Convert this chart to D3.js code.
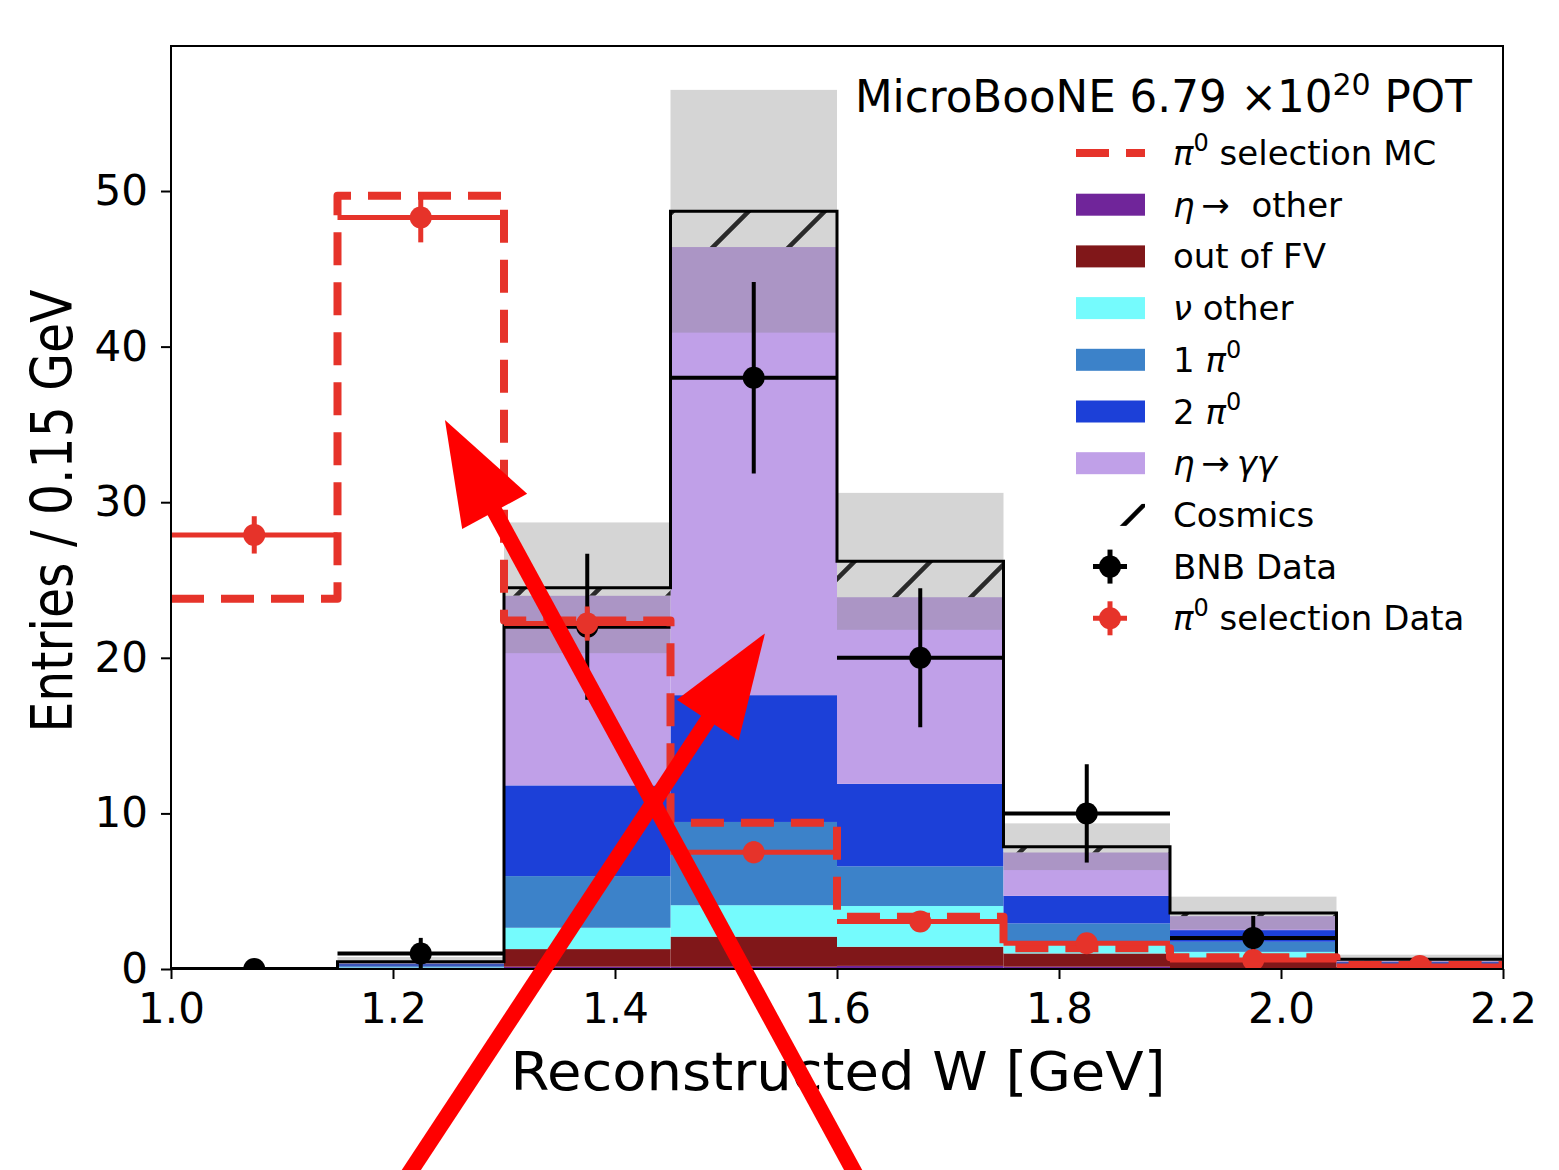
<!DOCTYPE html>
<html>
<head>
<meta charset="utf-8">
<script src="https://cdnjs.cloudflare.com/ajax/libs/d3/7.8.5/d3.min.js"></script>
<style>
  body { margin: 0; background: #fff; }
  svg { display: block; font-family: "DejaVu Sans", sans-serif; }
</style>
</head>
<body>
<svg id="chart"></svg>
<script>
// bins of reconstructed W [GeV]
var binEdges = [1.0, 1.15, 1.3, 1.45, 1.6, 1.75, 1.9, 2.05, 2.2];

// stacked MC components (entries / bin), bottom to top
var etaOther = [0, 0.02, 0.15, 0.15, 0.2, 0.15, 0.05, 0.05];
var outFV    = [0, 0.03, 1.13, 1.93, 1.23, 0.85, 0.6, 0.1];
var nuOther  = [0, 0.05, 1.37, 2.02, 2.62, 0.65, 0.45, 0.05];
var onePi0   = [0, 0.08, 3.32, 5.35, 2.55, 1.28, 0.65, 0.1];
var twoPi0   = [0, 0.17, 5.83, 8.15, 5.3, 1.77, 0.75, 0.15];
var etaGG    = [0, 0.07, 12.2, 28.8, 12.0, 2.8, 0.9, 0.12];
var cosmics  = [0, 0.05, 0.5, 2.3, 2.3, 0.36, 0.2, 0.05];
var mcErr    = [0, 0.3, 4.2, 7.8, 4.4, 1.5, 1.05, 0.3];

// BNB data
var bnbData = [0, 1, 22, 38, 20, 10, 2, 0];
var bnbErr  = [0, 1, 4.69, 6.16, 4.47, 3.16, 1.41, 0];

// pi0 selection (scaled)
var pi0MC      = [23.8, 49.7, 22.4, 9.4, 3.36, 1.33, 0.75, 0.25];
var pi0Data    = [27.9, 48.3, 22.2, 7.5, 3.05, 1.65, 0.58, 0.2];
var pi0DataErr = [1.2, 1.6, 1.1, 0.7, 0.5, 0.35, 0.2, 0.15];

var xTicks = [1.0, 1.2, 1.4, 1.6, 1.8, 2.0, 2.2];
var yTicks = [0, 10, 20, 30, 40, 50];

// annotation arrows (data units)
var arrows = [
  {tipX: 1.2468, tipY: 35.28, tailX: 1.6228, tailY: -14},
  {tipX: 1.5351, tipY: 21.57, tailX: 1.2065, tailY: -14}
];

var keys = ["etaOther", "outFV", "nuOther", "onePi0", "twoPi0", "etaGG", "cosmics"];
var colors = {etaOther: "#70259a", outFV: "#801719", nuOther: "#75fbfd",
              onePi0: "#3c82c9", twoPi0: "#1c40d8", etaGG: "#c0a0e8", cosmics: "url(#hatch)"};
var red = "#e6332a";

var width = 1559, height = 1170,
    margin = {top: 46, right: 56, bottom: 201, left: 171},
    innerWidth = width - margin.left - margin.right,
    innerHeight = height - margin.top - margin.bottom;

var x = d3.scaleLinear().domain([1.0, 2.2]).range([0, innerWidth]),
    y = d3.scaleLinear().domain([0, 59.32]).range([innerHeight, 0]);

var rows = binEdges.slice(0, -1).map(function(lo, i) {
  return {lo: lo, hi: binEdges[i + 1], mid: (lo + binEdges[i + 1]) / 2,
          etaOther: etaOther[i], outFV: outFV[i], nuOther: nuOther[i], onePi0: onePi0[i],
          twoPi0: twoPi0[i], etaGG: etaGG[i], cosmics: cosmics[i], err: mcErr[i],
          bnb: bnbData[i], bnbErr: bnbErr[i], piMC: pi0MC[i], piData: pi0Data[i], piErr: pi0DataErr[i]};
});
rows.forEach(function(r) { r.total = d3.sum(keys, function(k) { return r[k]; }); });

var svgRoot = d3.select("#chart").attr("width", width).attr("height", height);
var defs = svgRoot.append("defs");

defs.append("clipPath").attr("id", "plotclip")
  .append("rect").attr("width", innerWidth).attr("height", innerHeight);

// hatch for cosmics; one for the plot, one for the legend handle (different user spaces)
function makeHatch(id, phase) {
  var p = defs.append("pattern").attr("id", id)
      .attr("patternUnits", "userSpaceOnUse")
      .attr("width", 76).attr("height", 76).attr("x", phase).attr("y", 0);
  p.append("rect").attr("width", 76).attr("height", 76).attr("fill", "#fff");
  p.append("path").attr("d", "M-19,19L19,-19M0,76L76,0M57,95L95,57")
    .attr("stroke", "#000").attr("stroke-width", 4.5);
}
makeHatch("hatch", 59);
makeHatch("hatchLegend", 70);

var svg = svgRoot.append("g")
  .attr("transform", "translate(" + margin.left + "," + margin.top + ")");

var plot = svg.append("g").attr("clip-path", "url(#plotclip)");

// stacked MC
var series = d3.stack().keys(keys)(rows);
plot.selectAll(".layer")
  .data(series).enter()
  .append("g")
    .attr("class", "layer")
    .attr("fill", function(d) { return colors[d.key]; })
  .selectAll("rect")
  .data(function(d) { return d; }).enter()
  .append("rect")
    .attr("x", function(d) { return x(d.data.lo); })
    .attr("width", function(d) { return x(d.data.hi) - x(d.data.lo); })
    .attr("y", function(d) { return y(d[1]); })
    .attr("height", function(d) { return Math.max(0, y(d[0]) - y(d[1])); });

// MC uncertainty band
plot.append("g").selectAll("rect")
  .data(rows.filter(function(d) { return d.err > 0; })).enter()
  .append("rect")
    .attr("x", function(d) { return x(d.lo); })
    .attr("width", function(d) { return x(d.hi) - x(d.lo); })
    .attr("y", function(d) { return y(d.total + d.err); })
    .attr("height", function(d) { return y(d.total - d.err) - y(d.total + d.err); })
    .attr("fill", "#808080").attr("fill-opacity", 0.33);

// step outlines
var stepLine = d3.line()
  .x(function(d) { return x(d[0]); })
  .y(function(d) { return y(d[1]); })
  .curve(d3.curveStepAfter);

function stepPoints(vals) {
  var pts = vals.map(function(v, i) { return [binEdges[i], v]; });
  pts.push([binEdges[binEdges.length - 1], vals[vals.length - 1]]);
  return pts;
}

plot.append("path")
  .attr("d", stepLine(stepPoints(rows.map(function(d) { return d.total; }))))
  .attr("fill", "none").attr("stroke", "#000").attr("stroke-width", 3);

// BNB data
var bnb = plot.append("g").selectAll("g").data(rows).enter().append("g");
bnb.append("line")
  .attr("x1", function(d) { return x(d.lo); }).attr("x2", function(d) { return x(d.hi); })
  .attr("y1", function(d) { return y(d.bnb); }).attr("y2", function(d) { return y(d.bnb); })
  .attr("stroke", "#000").attr("stroke-width", 4);
bnb.append("line")
  .attr("x1", function(d) { return x(d.mid); }).attr("x2", function(d) { return x(d.mid); })
  .attr("y1", function(d) { return y(d.bnb - d.bnbErr); }).attr("y2", function(d) { return y(d.bnb + d.bnbErr); })
  .attr("stroke", "#000").attr("stroke-width", 4);
bnb.append("circle")
  .attr("cx", function(d) { return x(d.mid); }).attr("cy", function(d) { return y(d.bnb); })
  .attr("r", 11).attr("fill", "#000");

// pi0 selection MC (dashed step)
plot.append("path")
  .attr("d", stepLine(stepPoints(pi0MC)))
  .attr("fill", "none").attr("stroke", red).attr("stroke-width", 8)
  .attr("stroke-dasharray", "33,17").attr("stroke-linejoin", "round");

// pi0 selection data
var pd = plot.append("g").selectAll("g").data(rows).enter().append("g");
pd.append("line")
  .attr("x1", function(d) { return x(d.lo); }).attr("x2", function(d) { return x(d.hi); })
  .attr("y1", function(d) { return y(d.piData); }).attr("y2", function(d) { return y(d.piData); })
  .attr("stroke", red).attr("stroke-width", 5);
pd.append("line")
  .attr("x1", function(d) { return x(d.mid); }).attr("x2", function(d) { return x(d.mid); })
  .attr("y1", function(d) { return y(d.piData - d.piErr); }).attr("y2", function(d) { return y(d.piData + d.piErr); })
  .attr("stroke", red).attr("stroke-width", 5);
pd.append("circle")
  .attr("cx", function(d) { return x(d.mid); }).attr("cy", function(d) { return y(d.piData); })
  .attr("r", 11).attr("fill", red);

// axes
var xAxis = d3.axisBottom(x).tickValues(xTicks).tickFormat(d3.format(".1f")).tickSize(10).tickPadding(14),
    yAxis = d3.axisLeft(y).tickValues(yTicks).tickSize(10).tickPadding(13);

var gx = svg.append("g").attr("transform", "translate(0," + innerHeight + ")").call(xAxis);
var gy = svg.append("g").call(yAxis);
[gx, gy].forEach(function(g) {
  g.select(".domain").remove();
  g.selectAll(".tick line").attr("stroke", "#000").attr("stroke-width", 2);
  g.selectAll(".tick text").attr("font-size", 42).attr("fill", "#000")
    .attr("font-family", "DejaVu Sans");
});

svg.append("rect")
  .attr("width", innerWidth).attr("height", innerHeight)
  .attr("fill", "none").attr("stroke", "#000").attr("stroke-width", 2);

// axis labels
svgRoot.append("text")
  .attr("x", 838).attr("y", 1090)
  .attr("text-anchor", "middle")
  .attr("font-size", 54)
  .attr("textLength", 655).attr("lengthAdjust", "spacingAndGlyphs")
  .text("Reconstructed W [GeV]");

svgRoot.append("text")
  .attr("transform", "translate(72,511) rotate(-90)")
  .attr("text-anchor", "middle")
  .attr("font-size", 57)
  .attr("textLength", 443).attr("lengthAdjust", "spacingAndGlyphs")
  .text("Entries / 0.15 GeV");

// title
var title = svgRoot.append("text").attr("x", 855).attr("y", 112).attr("font-size", 43.6);
title.append("tspan").text("MicroBooNE 6.79 \u00d710");
title.append("tspan").attr("font-size", 30).attr("dy", -17).text("20");
title.append("tspan").attr("dy", 17).text(" POT");

// legend
var legendItems = [
  {type: "dash",  label: [{t: "\u03c0", it: 1}, {t: "0", sup: 1}, {t: " selection MC"}]},
  {type: "patch", key: "etaOther", label: [{t: "\u03b7", it: 1}, {t: "\u2009\u2192\u00a0\u00a0other"}]},
  {type: "patch", key: "outFV",    label: [{t: "out of FV"}]},
  {type: "patch", key: "nuOther",  label: [{t: "\u03bd", it: 1}, {t: " other"}]},
  {type: "patch", key: "onePi0",   label: [{t: "1 "}, {t: "\u03c0", it: 1}, {t: "0", sup: 1}]},
  {type: "patch", key: "twoPi0",   label: [{t: "2 "}, {t: "\u03c0", it: 1}, {t: "0", sup: 1}]},
  {type: "patch", key: "etaGG",    label: [{t: "\u03b7", it: 1}, {t: "\u2009\u2192\u2009"}, {t: "\u03b3\u03b3", it: 1}]},
  {type: "patch", key: "cosmics",  label: [{t: "Cosmics"}]},
  {type: "err",   color: "#000",   label: [{t: "BNB Data"}]},
  {type: "err",   color: red,      label: [{t: "\u03c0", it: 1}, {t: "0", sup: 1}, {t: " selection Data"}]}
];

var legend = svgRoot.append("g");
var row = legend.selectAll("g").data(legendItems).enter().append("g")
  .attr("transform", function(d, i) { return "translate(0," + (153 + i * 51.7) + ")"; });

row.filter(function(d) { return d.type === "dash"; }).append("line")
  .attr("x1", 1076).attr("x2", 1145).attr("y1", 0).attr("y2", 0)
  .attr("stroke", red).attr("stroke-width", 8).attr("stroke-dasharray", "33,17");

row.filter(function(d) { return d.type === "patch"; }).append("rect")
  .attr("x", 1076).attr("y", -11).attr("width", 69).attr("height", 22)
  .attr("fill", function(d) { return d.key === "cosmics" ? "url(#hatchLegend)" : colors[d.key]; });

var er = row.filter(function(d) { return d.type === "err"; });
er.append("line").attr("x1", 1093).attr("x2", 1127).attr("y1", 0).attr("y2", 0)
  .attr("stroke", function(d) { return d.color; }).attr("stroke-width", 5);
er.append("line").attr("x1", 1110).attr("x2", 1110).attr("y1", -17).attr("y2", 17)
  .attr("stroke", function(d) { return d.color; }).attr("stroke-width", 5);
er.append("circle").attr("cx", 1110).attr("cy", 0).attr("r", 11)
  .attr("fill", function(d) { return d.color; });

row.each(function(d) {
  var t = d3.select(this).append("text").attr("x", 1173).attr("y", 12).attr("font-size", 34);
  var raised = false;
  d.label.forEach(function(s) {
    var sp = t.append("tspan").text(s.t);
    if (s.it) sp.attr("font-style", "italic");
    if (s.sup) { sp.attr("font-size", 24).attr("dy", -14); raised = true; }
    else if (raised) { sp.attr("dy", 14); raised = false; }
  });
});

// red annotation arrows
var ann = svgRoot.append("g").attr("transform", "translate(" + margin.left + "," + margin.top + ")");
arrows.forEach(function(a) {
  var tx = x(a.tipX), ty = y(a.tipY), sx = x(a.tailX), sy = y(a.tailY);
  var len = Math.hypot(tx - sx, ty - sy), ux = (tx - sx) / len, uy = (ty - sy) / len;
  var headLen = 104, headHalf = 37;
  var bx = tx - ux * headLen, by = ty - uy * headLen;
  ann.append("line")
    .attr("x1", sx).attr("y1", sy)
    .attr("x2", bx + ux * 10).attr("y2", by + uy * 10)
    .attr("stroke", "#ff0000").attr("stroke-width", 16);
  ann.append("polygon")
    .attr("points", [[tx, ty], [bx - uy * headHalf, by + ux * headHalf], [bx + uy * headHalf, by - ux * headHalf]]
      .map(function(p) { return p.join(","); }).join(" "))
    .attr("fill", "#ff0000");
});
</script>
</body>
</html>
